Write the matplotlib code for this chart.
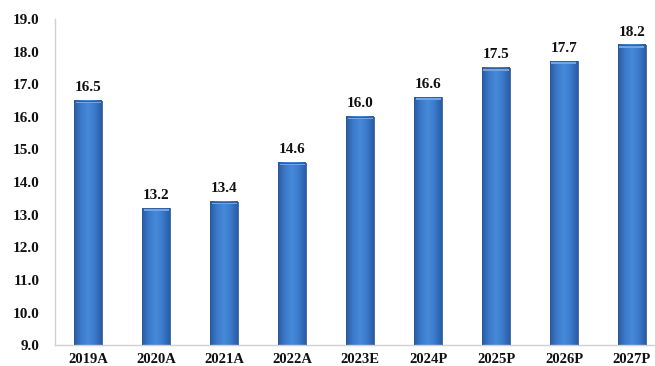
import matplotlib
matplotlib.use("Agg")
import matplotlib.pyplot as plt
import numpy as np
from matplotlib.colors import LinearSegmentedColormap

years = ['2019A', '2020A', '2021A', '2022A', '2023E', '2024P', '2025P', '2026P', '2027P']
values = [16.5, 13.2, 13.4, 14.6, 16.0, 16.6, 17.5, 17.7, 18.2]

plt.rcParams['font.family'] = ['Liberation Serif', 'DejaVu Serif']
plt.rcParams['font.weight'] = 'bold'

fig = plt.figure(figsize=(6.55, 3.66), dpi=100)
ax = fig.add_axes([0.084, 0.057, 0.916, 0.891])

base = 9.0
w = 0.41
cmap = LinearSegmentedColormap.from_list('cyl', ['#2a5ca4', '#3b7acb', '#4789da', '#3b7acb', '#2a5ca4'])
grad = np.linspace(0, 1, 64).reshape(1, -1)

xs = np.arange(len(years))
for i, v in enumerate(values):
    ax.imshow(grad, cmap=cmap, extent=[xs[i] - w / 2, xs[i] + w / 2, base, v],
              aspect='auto', zorder=2, interpolation='bicubic')
    # light bevel on top
    ax.bar(xs[i], 0.08, bottom=v - 0.08, width=w * 0.9, color='#6fa6e6', zorder=3, linewidth=0)
    ax.bar(xs[i], v - base, bottom=base, width=w, fill=False, edgecolor='#2a558f', linewidth=0.6, zorder=4)
    ax.text(xs[i], v + 0.2, f'{v:.1f}', ha='center', va='bottom', fontsize=11, fontweight='bold', color='#111111')

ax.set_xlim(-0.49, 8.34)
ax.set_ylim(9.0, 19.0)
ax.set_yticks(np.arange(9, 19.5, 1.0))
ax.set_yticklabels([f'{t:.1f}' for t in np.arange(9, 19.5, 1.0)])
ax.set_xticks(xs)
ax.set_xticklabels(years)
ax.tick_params(axis='both', length=0, colors='#111111')
ax.tick_params(axis='y', pad=11, labelsize=11)
ax.tick_params(axis='x', pad=6, labelsize=10.5)
for s in ['top', 'right']:
    ax.spines[s].set_visible(False)
for s in ['left', 'bottom']:
    ax.spines[s].set_color('#d0d0d0')
    ax.spines[s].set_linewidth(1.0)

fig.savefig('out.png', dpi=100)
